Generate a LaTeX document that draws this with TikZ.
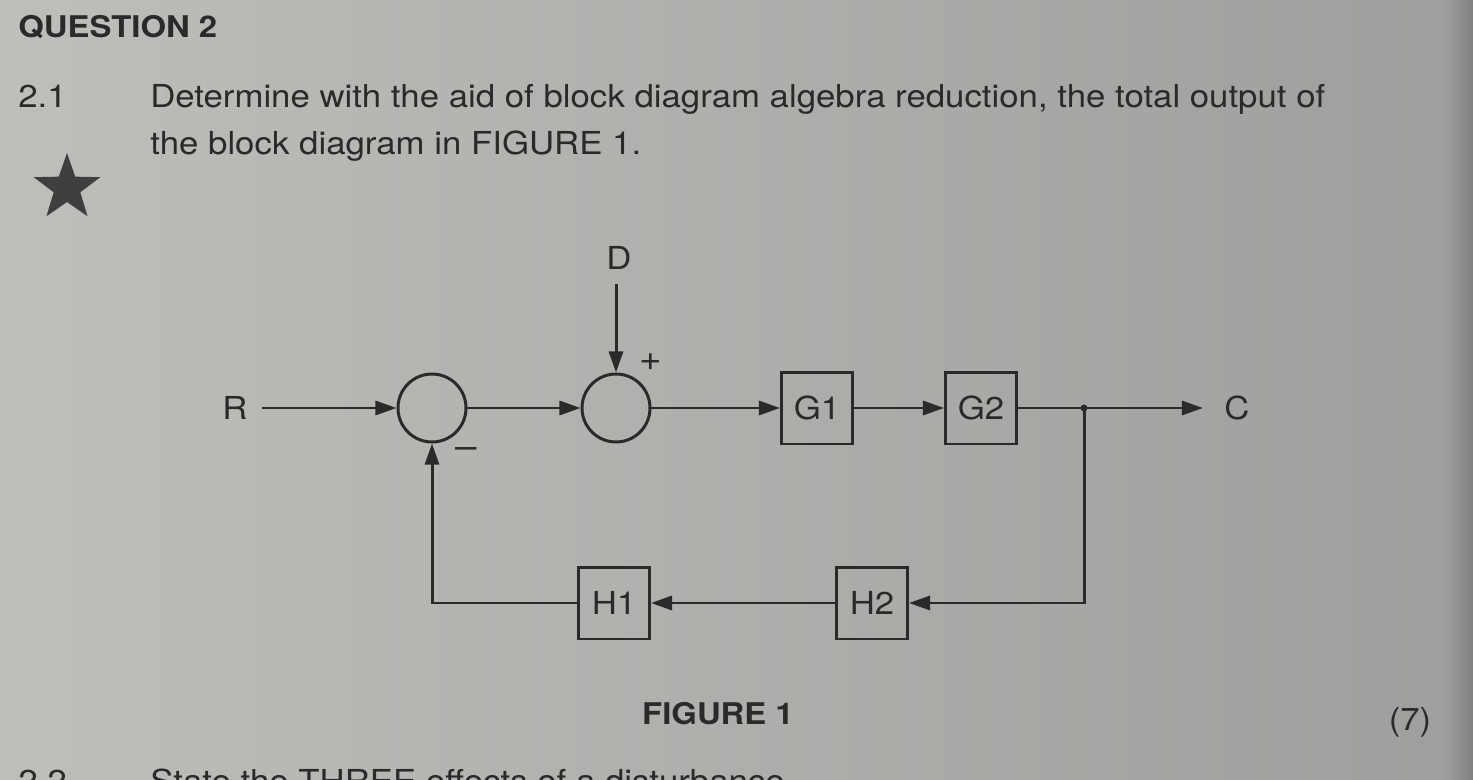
\documentclass[tikz,border=0pt]{standalone}
\usepackage{fontspec}
\setmainfont[FakeStretch=1.1]{TeX Gyre Heros}
\usetikzlibrary{arrows.meta, positioning, shapes.geometric, calc}
\definecolor{paperLight}{HTML}{BEBEBB}
\definecolor{paperDark}{HTML}{9E9E9C}
\definecolor{inkGray}{HTML}{2A2A2A}
\newcommand{\BodyFont}{\fontsize{18}{21}\selectfont}
\newcommand{\HeadFont}{\fontsize{17}{20}\selectfont\bfseries}
\tikzset{
    sumNode/.style={circle, draw=inkGray, line width=1.7pt, minimum size=1.36cm, inner sep=0pt},
    blockBox/.style={rectangle, draw=inkGray, line width=1.7pt, minimum width=1.42cm, minimum height=1.44cm, font=\BodyFont, text=inkGray},
    sigLine/.style={draw=inkGray, line width=1.7pt},
    sigArrow/.style={sigLine, -{Triangle[length=12pt,width=8pt]}},
    sigLabel/.style={font=\BodyFont, text=inkGray, inner sep=0pt},
    signMark/.style={font=\fontsize{20}{20}\selectfont, text=inkGray, inner sep=0pt}
}

\begin{document}
\begin{tikzpicture}[x=0.02cm, y=-0.02cm]
        % The page
        \useasboundingbox (0,0) rectangle (1473,780);
        \clip (0,0) rectangle (1473,780);
        \shade[left color=paperLight, right color=paperDark] (0,0) rectangle (1473,780);
        \shade[left color=paperDark, right color=black!50] (1445,0) rectangle (1473,780);

        % The question text
        \node[sigLabel, anchor=base west, font=\HeadFont] (qTitle) at (18,38) {QUESTION 2};
        \node[sigLabel, anchor=base west] (qNum) at (18,108) {2.1};
        \node[sigLabel, anchor=base west] (qLineA) at (150,108) {Determine with the aid of block diagram algebra reduction, the total output of};
        \node[sigLabel, anchor=base west] (qLineB) at (150,155) {the block diagram in FIGURE 1.};
        \node[star, star points=5, star point ratio=2.5, fill=inkGray!90, minimum size=1.4cm, inner sep=0pt] (qStar) at (67,188) {};

        % The forward path
        \node[sigLabel] (rIn) at (235,408) {R};
        \node[sumNode] (sumA) at (432,408) {};
        \node[sumNode] (sumB) at (616,408) {};
        \node[sigLabel] (dIn) at (619,258) {D};
        \node[blockBox] (gOne) at (817,408) {G1};
        \node[blockBox] (gTwo) at (981,408) {G2};
        \coordinate (branch) at (1084,408);
        \node[sigLabel] (cOut) at (1237,408) {C};

        % The feedback path
        \node[blockBox] (hTwo) at (872,603) {H2};
        \node[blockBox] (hOne) at (614,603) {H1};

        % Signs
        \node[signMark] (plusB) at (651,362) {+};
        \node[signMark] (minusA) at (466,453) {--};

        % Connectors
        \draw[sigArrow, shorten <=8pt] (rIn) -- (sumA);
        \draw[sigArrow] (sumA) -- (sumB);
        \draw[sigArrow, shorten <=8pt] (dIn.south -| sumB) -- (sumB);
        \draw[sigArrow] (sumB) -- (gOne);
        \draw[sigArrow] (gOne) -- (gTwo);
        \draw[sigLine] (gTwo) -- (branch);
        \draw[sigArrow, shorten >=12pt] (branch) -- (cOut);
        \fill[inkGray] (branch) circle (3.5);
        \draw[sigArrow] (branch) |- (hTwo);
        \draw[sigArrow] (hTwo) -- (hOne);
        \draw[sigArrow] (hOne) -| (sumA);

        % Caption and marks
        \node[sigLabel, anchor=base, font=\HeadFont] (figCap) at (718,724) {FIGURE 1};
        \node[sigLabel] (qMarks) at (1410,722) {(7)};
        \node[sigLabel, anchor=base west] (nextNum) at (18,792) {2.2};
        \node[sigLabel, anchor=base west] (nextLine) at (150,792) {State the THREE effects of a disturbance};
    \end{tikzpicture}
\end{document}
